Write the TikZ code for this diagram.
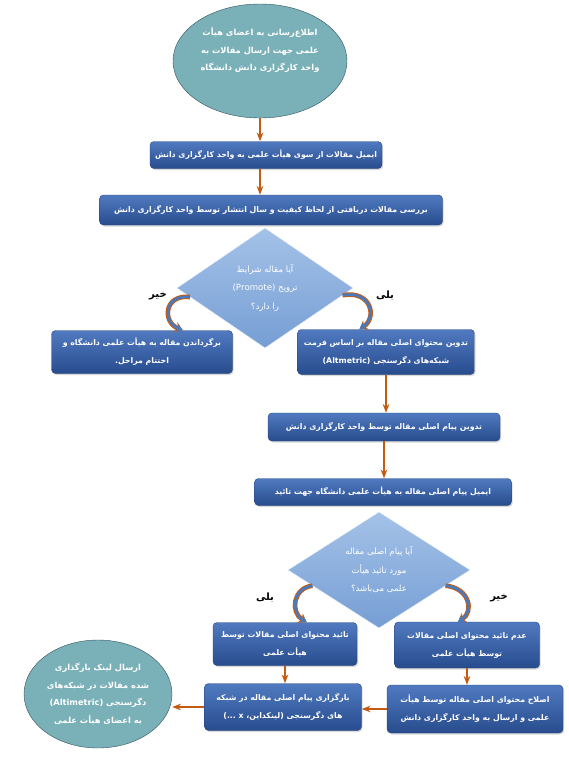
\documentclass[tikz,border=0pt]{standalone}
\usepackage{fontspec}
\newfontfamily\fafont[Script=Arabic]{DejaVu Sans}
\TeXXeTstate=1
\usepackage{xcolor}
\definecolor{boxtop}{RGB}{80, 122, 192}
\definecolor{boxbot}{RGB}{40, 76, 142}
\definecolor{boxedge}{RGB}{38, 66, 120}
\definecolor{tealfill}{RGB}{122, 176, 183}
\definecolor{tealedge}{RGB}{50, 84, 94}
\definecolor{diamtop}{RGB}{164, 194, 232}
\definecolor{diambot}{RGB}{118, 158, 212}
\definecolor{arroworange}{RGB}{197, 90, 17}
\definecolor{curveblue}{RGB}{72, 122, 192}
\usepackage{tikz}
\usetikzlibrary{arrows.meta, positioning, calc, shapes.geometric, shadows}
\newcommand{\rtl}[1]{\beginR#1\endR}
\newcommand{\ltr}[1]{\beginL#1\endL{}}

\begin{document}
\begin{tikzpicture}[x=1pt, y=-1pt, >=Stealth,
    font=\fafont\bfseries\fontsize{7.8pt}{18pt}\selectfont,
    box/.style={rectangle, rounded corners=4pt, draw=boxedge, top color=boxtop, bottom color=boxbot,
        text=white, align=center, inner sep=2pt,
        drop shadow={opacity=0.3, shadow xshift=1.2pt, shadow yshift=-1.5pt}},
    oval/.style={ellipse, draw=tealedge, fill=tealfill, text=white, align=center, inner sep=0pt,
        font=\fafont\bfseries\fontsize{8.3pt}{17.5pt}\selectfont},
    decision/.style={diamond, draw=white!80!diambot, top color=diamtop, bottom color=diambot,
        text=white, align=center, inner sep=0pt,
        font=\fafont\fontsize{8.6pt}{18.5pt}\selectfont},
    flow/.style={->, arroworange, line width=1.3pt},
    curvy/.style={arroworange, line width=4.6pt, -{Stealth[length=8pt, width=11pt]},
        postaction={draw=curveblue, line width=2.6pt, -{Stealth[length=6.5pt, width=8pt]}}},
    answer/.style={font=\fafont\bfseries\fontsize{10pt}{12pt}\selectfont}]
    \useasboundingbox (0,0) rectangle (569,763);

    % start and end
    \node[oval, minimum width=174pt, minimum height=114pt] (top) at (260,61)
        {\rtl{اطلاع‌رسانی به اعضای هیأت}\\\rtl{علمی جهت ارسال مقالات به}\\\rtl{واحد کارگزاری دانش دانشگاه}\\[6pt]};
    \node[oval, minimum width=148pt, minimum height=108pt] (notify) at (98,694)
        {\rtl{ارسال لینک بارگذاری}\\\rtl{شده مقالات در شبکه‌های}\\\rtl{دگرسنجی \ltr{(Altimetric)}}\\\rtl{به اعضای هیأت علمی}};

    % steps
    \node[box, minimum width=232pt, minimum height=27pt] (mail) at (266,155)
        {\rtl{ایمیل مقالات از سوی هیأت علمی به واحد کارگزاری دانش}};
    \node[box, minimum width=343pt, minimum height=30pt] (review) at (271,210)
        {\rtl{بررسی مقالات دریافتی از لحاظ کیفیت و سال انتشار توسط واحد کارگزاری دانش}};
    \node[box, minimum width=181pt, minimum height=43pt] (reject) at (142,352)
        {\rtl{برگرداندن مقاله به هیأت علمی دانشگاه و}\\\rtl{اختتام مراحل.}};
    \node[box, minimum width=177pt, minimum height=45pt] (format) at (386,352)
        {\rtl{تدوین محتوای اصلی مقاله بر اساس فرمت}\\\rtl{شبکه‌های دگرسنجی \ltr{(Altmetric)}}};
    \node[box, minimum width=232pt, minimum height=28pt] (draft) at (384,427)
        {\rtl{تدوین پیام اصلی مقاله توسط واحد کارگزاری دانش}};
    \node[box, minimum width=257pt, minimum height=27pt] (send) at (383,492)
        {\rtl{ایمیل پیام اصلی مقاله به هیأت علمی دانشگاه جهت تائید}};
    \node[box, minimum width=144pt, minimum height=43pt] (ok) at (285,644)
        {\rtl{تائید محتوای اصلی مقالات توسط}\\\rtl{هیأت علمی}};
    \node[box, minimum width=145pt, minimum height=46pt] (notok) at (467,645)
        {\rtl{عدم تائید محتوای اصلی مقالات}\\\rtl{توسط هیأت علمی}};
    \node[box, minimum width=157pt, minimum height=47pt] (upload) at (283,707)
        {\rtl{بارگزاری پیام اصلی مقاله در شبکه}\\\rtl{های دگرسنجی (لینکداین، \ltr{x} ...)}};
    \node[box, minimum width=176pt, minimum height=48pt] (revise) at (475,709)
        {\rtl{اصلاح محتوای اصلی مقاله توسط هیأت}\\\rtl{علمی و ارسال به واحد کارگزاری دانش}};

    % decisions
    \node[decision, minimum width=176pt, minimum height=120pt] (promote) at (265,288)
        {\rtl{آیا مقاله شرایط}\\\rtl{ترویج \ltr{(Promote)}}\\\rtl{را دارد؟}};
    \node[decision, minimum width=182pt, minimum height=116pt] (approve) at (379,570)
        {\rtl{آیا پیام اصلی مقاله}\\\rtl{مورد تائید هیأت}\\\rtl{علمی می‌باشد؟}};

    \node[answer] (no1) at (158,296) {\rtl{خیر}};
    \node[answer] (yes1) at (385,296) {\rtl{بلی}};
    \node[answer] (yes2) at (265,598) {\rtl{بلی}};
    \node[answer] (no2) at (499,598) {\rtl{خیر}};

    % straight connectors
    \draw[flow] (top.south) -- (top.south |- mail.north);
    \draw[flow] (mail.south -| top.south) -- (review.north -| top.south);
    \draw[flow] (format.south) -- (format.south |- draft.north);
    \draw[flow] (draft.south) -- (draft.south |- send.north);
    \draw[flow] (ok.south) -- (ok.south |- upload.north);
    \draw[flow] (notok.south) -- (notok.south |- revise.north);
    \draw[flow] (revise.west) -- (revise.west -| upload.east);
    \draw[flow] (upload.west) -- (upload.west -| notify.east);

    % curved connectors
    \draw[curvy] ($(promote.west)!0.15!(promote.south)$) .. controls (164,294) and (162,322) .. ($(reject.north)!0.45!(reject.north east)$);
    \draw[curvy] ($(promote.east)!0.12!(promote.south)$) .. controls (372,290) and (377,318) .. ($(format.north)!0.3!(format.north west)$);
    \draw[curvy] ($(approve.west)!0.27!(approve.south)$) .. controls (293,588) and (290,612) .. ($(ok.north)!0.3!(ok.north east)$);
    \draw[curvy] ($(approve.east)!0.27!(approve.south)$) .. controls (470,588) and (474,612) .. ($(notok.north)!0.125!(notok.north west)$);
\end{tikzpicture}
\end{document}
